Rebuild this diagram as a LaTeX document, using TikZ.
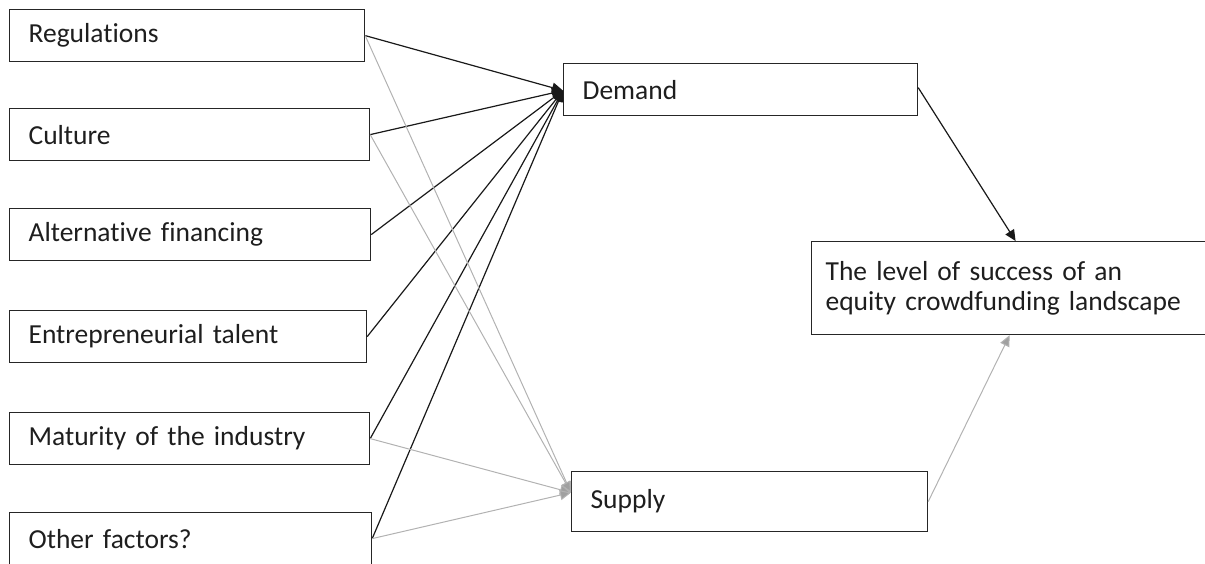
\documentclass[tikz,border=0pt]{standalone}
\usepackage{fontspec}
\setmainfont{Carlito}[Ligatures=NoCommon]
\usetikzlibrary{arrows.meta,calc}
\definecolor{lgray}{RGB}{178,178,178}
\definecolor{agray}{RGB}{160,160,160}
\definecolor{txt}{RGB}{30,30,30}
\begin{document}
\begin{tikzpicture}[x=1pt,y=-1pt,
  box/.style={draw=black!85,line width=1.2pt,rectangle,anchor=north west,
    minimum height=52pt,inner xsep=19pt,inner ysep=0pt,align=left,
    font=\fontsize{27.5}{30}\selectfont,text=txt},
  blk/.style={draw=black!90,line width=1.2pt,-{Triangle[length=11pt,width=10pt]}},
  gry/.style={draw=lgray,line width=1pt,-{Triangle[length=11pt,width=10pt,fill=agray]}}]
\useasboundingbox (0,0) rectangle (1205,563);
\node[box,text width=355pt-38pt] (reg) at (9,9) {Regulations};
\node[box,text width=360pt-38pt] (cul) at (9,108) {Culture};
\node[box,text width=361pt-38pt] (alt) at (9,208) {Alternative financing};
\node[box,text width=357pt-38pt] (ent) at (9,310) {Entrepreneurial talent};
\node[box,text width=360pt-38pt] (mat) at (9,412) {Maturity of the industry};
\node[box,text width=362pt-38pt] (oth) at (9,512) {Other factors?};
\node[box,text width=354pt-38pt] (dem) at (563,63) {Demand};
\node[box,text width=356pt-38pt,minimum height=60pt] (sup) at (571,471) {Supply};
\node[box,text width=400pt-28pt,inner xsep=14pt,minimum height=93pt] (res) at (811,241)
  {The level of success of an\\equity crowdfunding landscape};
\coordinate (dtip) at ([yshift=-1pt]dem.west);
\coordinate (stip) at ([yshift=9pt]sup.west);
\foreach \n in {reg,cul,alt,ent,mat,oth}{
  \draw[blk] (\n.east) -- (dtip);
}
\foreach \n in {reg,cul,mat,oth}{
  \draw[gry] (\n.east) -- (stip);
}
\draw[blk] ([yshift=2pt]dem.east) -- ([xshift=4pt]res.north);
\draw[gry] (sup.east) -- ([xshift=-2pt]res.south);
\end{tikzpicture}
\end{document}
